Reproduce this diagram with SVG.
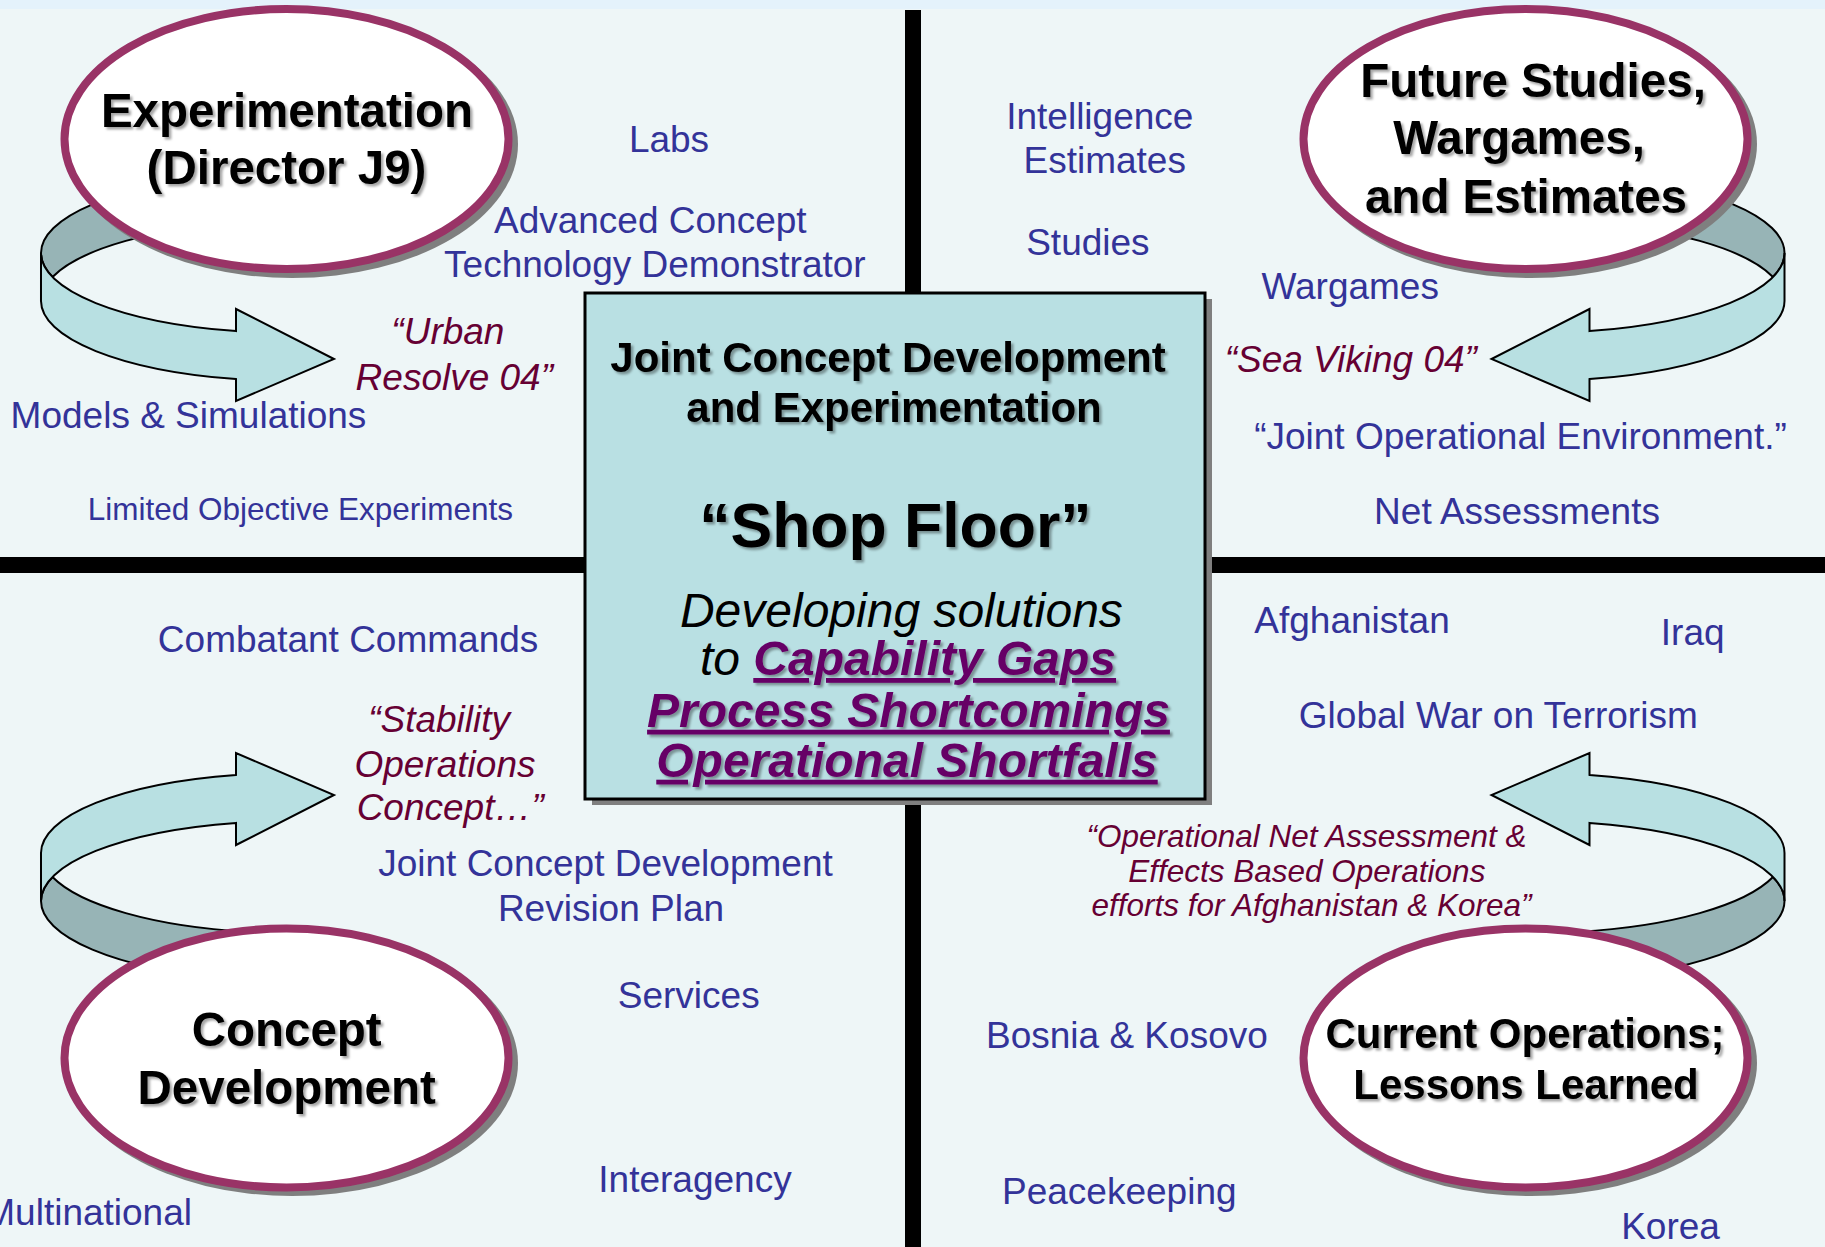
<svg xmlns="http://www.w3.org/2000/svg" xmlns:xlink="http://www.w3.org/1999/xlink" width="1825" height="1247" viewBox="0 0 1825 1247">
<style>
.t{font-family:"Liberation Sans",Arial,Helvetica,sans-serif;text-anchor:middle}
.blue{font-size:37px;fill:#333399}
.red{font-size:37px;fill:#660033;font-style:italic}
.t.small{font-size:31.5px}
.node{font-size:47.5px;font-weight:bold;fill:#000;filter:url(#sh)}
.node2{font-size:42px;font-weight:bold;fill:#000;filter:url(#sh)}
.ul{font-weight:bold;font-style:italic;fill:#660066;text-decoration:underline}
.rib-dark{fill:#97B4B6;stroke:#000;stroke-width:2;stroke-linejoin:round}
.rib-front{fill:#B8E0E2;stroke:#000;stroke-width:2;stroke-linejoin:miter}
.ell{fill:#fff;stroke:#993366;stroke-width:8}
.ell-sh{fill:#7F7F7F}
.bar{fill:#000}
</style>
<defs>
<filter id="sh" x="-5%" y="-15%" width="115%" height="140%">
<feDropShadow dx="2.5" dy="2.5" stdDeviation="1.3" flood-color="#000" flood-opacity="0.35"/>
</filter>
<g id="ribbon">
<path class="rib-dark" d="M41,253 A249,80 0 0 1 225.55,175.73 L246.76,222.22 A249,80 0 0 0 52.5,277 A249,80 0 0 1 41,253 Z"/>
<path class="rib-front" d="M41,253 A249,80 0 0 0 236,331.1 L236,309 L334,359 L236,401 L236,379.1 A249,80 0 0 1 41,301 Z"/>
</g>
</defs>

<rect x="0" y="0" width="1825" height="1247" fill="#EEF6F7"/>
<rect x="0" y="0" width="1825" height="9" fill="#E4F2FB"/>

<g id="dividers">
<rect class="bar" x="905" y="10" width="16" height="290"/>
<rect class="bar" x="905" y="795" width="16" height="452"/>
<rect class="bar" x="0" y="557" width="590" height="16"/>
<rect class="bar" x="1200" y="557" width="625" height="16"/>
</g>

<g id="connectors">
<use xlink:href="#ribbon" href="#ribbon"/>
<use xlink:href="#ribbon" href="#ribbon" transform="matrix(-1,0,0,1,1825.5,0)"/>
<use xlink:href="#ribbon" href="#ribbon" transform="matrix(1,0,0,-1,0,1154)"/>
<use xlink:href="#ribbon" href="#ribbon" transform="matrix(-1,0,0,-1,1825.5,1154)"/>
</g>

<g id="experimentation">
<ellipse class="ell-sh" cx="292" cy="144" rx="226" ry="134"/>
<ellipse class="ell" cx="286.5" cy="139" rx="222" ry="130"/>
<text class="t node" x="287" y="126.5">Experimentation</text>
<text class="t node" x="286.5" y="184">(Director J9)</text>
</g>

<g id="future-studies">
<ellipse class="ell-sh" cx="1531" cy="144" rx="226" ry="134"/>
<ellipse class="ell" cx="1525.5" cy="139" rx="222" ry="130"/>
<text class="t node" x="1533" y="97">Future Studies,</text>
<text class="t node" x="1519" y="154">Wargames,</text>
<text class="t node" x="1526" y="212.5">and Estimates</text>
</g>

<g id="concept-development">
<ellipse class="ell-sh" cx="292" cy="1063" rx="226" ry="133"/>
<ellipse class="ell" cx="286.5" cy="1058" rx="222" ry="129.5"/>
<text class="t node" x="286.7" y="1045.5">Concept</text>
<text class="t node" x="286.7" y="1103.5">Development</text>
</g>

<g id="current-operations">
<ellipse class="ell-sh" cx="1531" cy="1063" rx="226" ry="133"/>
<ellipse class="ell" cx="1525.5" cy="1058" rx="222" ry="129.5"/>
<text class="t node2" x="1525" y="1048">Current Operations;</text>
<text class="t node2" x="1526" y="1099">Lessons Learned</text>
</g>

<g id="shop-floor">
<rect x="592" y="299" width="620" height="506" fill="#7F7F7F"/>
<rect x="585" y="293" width="620" height="506" fill="#B9E0E3" stroke="#000" stroke-width="3"/>
<text class="t node2" x="888" y="371.7">Joint Concept Development</text>
<text class="t node2" x="894" y="422.3">and Experimentation</text>
<text class="t" x="895.4" y="547" font-size="62.5" font-weight="bold" fill="#000" filter="url(#sh)">“Shop Floor”</text>
<text class="t" x="901.4" y="626.7" font-size="48" font-style="italic" fill="#000">Developing solutions</text>
<text class="t" x="908" y="675" font-size="48" font-style="italic" fill="#000"><tspan>to </tspan><tspan class="ul" filter="url(#sh)">Capability Gaps</tspan></text>
<text class="t ul" x="908.5" y="726.7" font-size="48" filter="url(#sh)">Process Shortcomings</text>
<text class="t ul" x="907" y="776.7" font-size="48" filter="url(#sh)">Operational Shortfalls</text>
</g>

<g id="labels-top-left">
<text class="t blue" x="669" y="152">Labs</text>
<text class="t blue" x="650.3" y="232.5">Advanced Concept</text>
<text class="t blue" x="654.9" y="276.8">Technology Demonstrator</text>
<text class="t red" x="447.9" y="344">“Urban</text>
<text class="t red" x="454.3" y="389.5">Resolve 04”</text>
<text class="t blue" x="188.5" y="427.8">Models &amp; Simulations</text>
<text class="t blue small" x="300.4" y="520">Limited Objective Experiments</text>
</g>

<g id="labels-top-right">
<text class="t blue" x="1099.8" y="128.5">Intelligence</text>
<text class="t blue" x="1104.7" y="173.2">Estimates</text>
<text class="t blue" x="1087.9" y="255">Studies</text>
<text class="t blue" x="1350.2" y="299">Wargames</text>
<text class="t red" x="1350.8" y="371.7">“Sea Viking 04”</text>
<text class="t blue" x="1520.5" y="448.8">“Joint Operational Environment.”</text>
<text class="t blue" x="1517" y="524">Net Assessments</text>
</g>

<g id="labels-bottom-left">
<text class="t blue" x="348.1" y="652">Combatant Commands</text>
<text class="t red" x="439.1" y="732">“Stability</text>
<text class="t red" x="445" y="776.8">Operations</text>
<text class="t red" x="450.2" y="819.9">Concept…”</text>
<text class="t blue" x="605.5" y="875.9">Joint Concept Development</text>
<text class="t blue" x="611" y="920.7">Revision Plan</text>
<text class="t blue" x="688.7" y="1007.9">Services</text>
<text class="t blue" x="695" y="1191.8">Interagency</text>
<text class="t blue" x="192" y="1224.6" style="text-anchor:end">Multinational</text>
</g>

<g id="labels-bottom-right">
<text class="t blue" x="1352" y="632.7">Afghanistan</text>
<text class="t blue" x="1692.7" y="645">Iraq</text>
<text class="t blue" x="1498.3" y="728.3">Global War on Terrorism</text>
<text class="t red small" x="1306.5" y="847.1">“Operational Net Assessment &amp;</text>
<text class="t red small" x="1306.8" y="881.9">Effects Based Operations</text>
<text class="t red small" x="1311.5" y="915.9">efforts for Afghanistan &amp; Korea”</text>
<text class="t blue" x="1126.9" y="1047.9">Bosnia &amp; Kosovo</text>
<text class="t blue" x="1119.3" y="1203.8">Peacekeeping</text>
<text class="t blue" x="1670.5" y="1239">Korea</text>
</g>
</svg>
